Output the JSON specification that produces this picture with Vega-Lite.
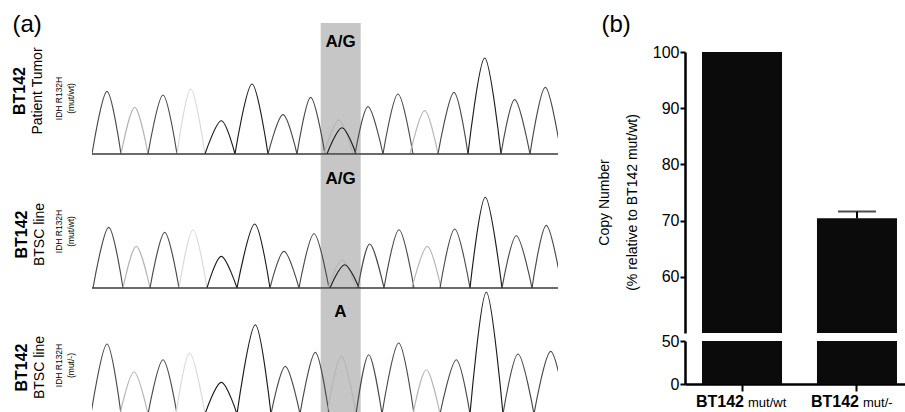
{
 "$schema": "https://vega.github.io/schema/vega-lite/v6.json",
 "padding": {"left": 12, "top": 12, "right": 0, "bottom": 0},
 "background": "white",
 "config": {"view": {"stroke": null}, "font": "Liberation Sans"},
 "datasets": {
  "r1": [
   {"peak":"p1","base":"C","x":92,"h":0},{"peak":"p1","base":"C","x":107,"h":62.7},{"peak":"p1","base":"C","x":121,"h":0},
   {"peak":"p2","base":"A","x":121,"h":0},{"peak":"p2","base":"A","x":134.7,"h":46.7},{"peak":"p2","base":"A","x":148,"h":0},
   {"peak":"p3","base":"C","x":148,"h":0},{"peak":"p3","base":"C","x":163,"h":59},{"peak":"p3","base":"C","x":177,"h":0},
   {"peak":"p4","base":"T","x":177,"h":0},{"peak":"p4","base":"T","x":190.7,"h":65},{"peak":"p4","base":"T","x":205,"h":0},
   {"peak":"p5","base":"G","x":205,"h":0},{"peak":"p5","base":"G","x":221.3,"h":33.3},{"peak":"p5","base":"G","x":235,"h":0},
   {"peak":"p6","base":"G","x":235,"h":0},{"peak":"p6","base":"G","x":252,"h":70},{"peak":"p6","base":"G","x":268,"h":0},
   {"peak":"p7","base":"C","x":268,"h":0},{"peak":"p7","base":"C","x":283,"h":39.3},{"peak":"p7","base":"C","x":297,"h":0},
   {"peak":"p8","base":"C","x":297,"h":0},{"peak":"p8","base":"C","x":310.7,"h":56.7},{"peak":"p8","base":"C","x":325,"h":0},
   {"peak":"p9","base":"A","x":324,"h":0},{"peak":"p9","base":"A","x":338.7,"h":34},{"peak":"p9","base":"A","x":353,"h":0},
   {"peak":"p10","base":"G","x":327,"h":0},{"peak":"p10","base":"G","x":342,"h":26.3},{"peak":"p10","base":"G","x":356,"h":0},
   {"peak":"p11","base":"C","x":355,"h":0},{"peak":"p11","base":"C","x":368,"h":47.3},{"peak":"p11","base":"C","x":383,"h":0},
   {"peak":"p12","base":"C","x":383,"h":0},{"peak":"p12","base":"C","x":398,"h":60},{"peak":"p12","base":"C","x":413,"h":0},
   {"peak":"p13","base":"A","x":410,"h":0},{"peak":"p13","base":"A","x":424.7,"h":43.3},{"peak":"p13","base":"A","x":438,"h":0},
   {"peak":"p14","base":"C","x":438,"h":0},{"peak":"p14","base":"C","x":454,"h":61.7},{"peak":"p14","base":"C","x":468,"h":0},
   {"peak":"p15","base":"G","x":468,"h":0},{"peak":"p15","base":"G","x":484.7,"h":96},{"peak":"p15","base":"G","x":501,"h":0},
   {"peak":"p16","base":"C","x":501,"h":0},{"peak":"p16","base":"C","x":514.7,"h":54.3},{"peak":"p16","base":"C","x":530,"h":0},
   {"peak":"p17","base":"C","x":530,"h":0},{"peak":"p17","base":"C","x":545.3,"h":66.7},{"peak":"p17","base":"C","x":561,"h":0}
  ],
  "r2": [
   {"peak":"p1","base":"C","x":93,"h":0},{"peak":"p1","base":"C","x":108.7,"h":60.7},{"peak":"p1","base":"C","x":123,"h":0},
   {"peak":"p2","base":"A","x":123,"h":0},{"peak":"p2","base":"A","x":136.3,"h":41.7},{"peak":"p2","base":"A","x":150,"h":0},
   {"peak":"p3","base":"C","x":150,"h":0},{"peak":"p3","base":"C","x":164.7,"h":55.7},{"peak":"p3","base":"C","x":179,"h":0},
   {"peak":"p4","base":"T","x":179,"h":0},{"peak":"p4","base":"T","x":193,"h":58.3},{"peak":"p4","base":"T","x":207,"h":0},
   {"peak":"p5","base":"G","x":207,"h":0},{"peak":"p5","base":"G","x":221.3,"h":31.7},{"peak":"p5","base":"G","x":237,"h":0},
   {"peak":"p6","base":"G","x":237,"h":0},{"peak":"p6","base":"G","x":254.7,"h":64},{"peak":"p6","base":"G","x":270,"h":0},
   {"peak":"p7","base":"C","x":270,"h":0},{"peak":"p7","base":"C","x":284,"h":36.7},{"peak":"p7","base":"C","x":299,"h":0},
   {"peak":"p8","base":"C","x":299,"h":0},{"peak":"p8","base":"C","x":314,"h":54.3},{"peak":"p8","base":"C","x":329,"h":0},
   {"peak":"p9","base":"A","x":328,"h":0},{"peak":"p9","base":"A","x":342,"h":28},{"peak":"p9","base":"A","x":356,"h":0},
   {"peak":"p10","base":"G","x":330,"h":0},{"peak":"p10","base":"G","x":344.7,"h":23.3},{"peak":"p10","base":"G","x":359,"h":0},
   {"peak":"p11","base":"C","x":358,"h":0},{"peak":"p11","base":"C","x":369.7,"h":44},{"peak":"p11","base":"C","x":384,"h":0},
   {"peak":"p12","base":"C","x":384,"h":0},{"peak":"p12","base":"C","x":399,"h":58.3},{"peak":"p12","base":"C","x":414,"h":0},
   {"peak":"p13","base":"A","x":412,"h":0},{"peak":"p13","base":"A","x":427.3,"h":41.7},{"peak":"p13","base":"A","x":441,"h":0},
   {"peak":"p14","base":"C","x":440,"h":0},{"peak":"p14","base":"C","x":454.7,"h":59},{"peak":"p14","base":"C","x":470,"h":0},
   {"peak":"p15","base":"G","x":470,"h":0},{"peak":"p15","base":"G","x":485.3,"h":90.7},{"peak":"p15","base":"G","x":502,"h":0},
   {"peak":"p16","base":"C","x":502,"h":0},{"peak":"p16","base":"C","x":516.3,"h":52.3},{"peak":"p16","base":"C","x":532,"h":0},
   {"peak":"p17","base":"C","x":532,"h":0},{"peak":"p17","base":"C","x":546.3,"h":62.7},{"peak":"p17","base":"C","x":562,"h":0}
  ],
  "r3": [
   {"peak":"p1","base":"C","x":91,"h":0},{"peak":"p1","base":"C","x":107,"h":70},{"peak":"p1","base":"C","x":121,"h":0},
   {"peak":"p2","base":"A","x":120,"h":0},{"peak":"p2","base":"A","x":134,"h":42},{"peak":"p2","base":"A","x":148,"h":0},
   {"peak":"p3","base":"C","x":148,"h":0},{"peak":"p3","base":"C","x":163,"h":54.3},{"peak":"p3","base":"C","x":177,"h":0},
   {"peak":"p4","base":"T","x":176,"h":0},{"peak":"p4","base":"T","x":189.7,"h":61},{"peak":"p4","base":"T","x":205,"h":0},
   {"peak":"p5","base":"G","x":205,"h":0},{"peak":"p5","base":"G","x":221.3,"h":31.7},{"peak":"p5","base":"G","x":237,"h":0},
   {"peak":"p6","base":"G","x":237,"h":0},{"peak":"p6","base":"G","x":255.3,"h":89.3},{"peak":"p6","base":"G","x":271,"h":0},
   {"peak":"p7","base":"C","x":271,"h":0},{"peak":"p7","base":"C","x":285.3,"h":47.7},{"peak":"p7","base":"C","x":300,"h":0},
   {"peak":"p8","base":"C","x":300,"h":0},{"peak":"p8","base":"C","x":315.3,"h":61.7},{"peak":"p8","base":"C","x":329,"h":0},
   {"peak":"p9","base":"A","x":327,"h":0},{"peak":"p9","base":"A","x":341.3,"h":57.7},{"peak":"p9","base":"A","x":356,"h":0},
   {"peak":"p11","base":"C","x":356,"h":0},{"peak":"p11","base":"C","x":368.7,"h":59.3},{"peak":"p11","base":"C","x":382,"h":0},
   {"peak":"p12","base":"C","x":382,"h":0},{"peak":"p12","base":"C","x":398.7,"h":71},{"peak":"p12","base":"C","x":414,"h":0},
   {"peak":"p13","base":"A","x":413,"h":0},{"peak":"p13","base":"A","x":426.3,"h":44.3},{"peak":"p13","base":"A","x":440,"h":0},
   {"peak":"p14","base":"C","x":440,"h":0},{"peak":"p14","base":"C","x":456.3,"h":54.3},{"peak":"p14","base":"C","x":470,"h":0},
   {"peak":"p15","base":"G","x":470,"h":0},{"peak":"p15","base":"G","x":486.3,"h":122},{"peak":"p15","base":"G","x":503,"h":0},
   {"peak":"p16","base":"C","x":503,"h":0},{"peak":"p16","base":"C","x":518,"h":60},{"peak":"p16","base":"C","x":534,"h":0},
   {"peak":"p17","base":"C","x":534,"h":0},{"peak":"p17","base":"C","x":550.7,"h":62.7},{"peak":"p17","base":"C","x":567,"h":0}
  ],
  "bars": [
   {"label":"BT142 mut/wt","strain":"BT142","geno":"mut/wt","value":100},
   {"label":"BT142 mut/-","strain":"BT142","geno":"mut/-","value":70.4,"hi":71.6}
  ]
 },
 "spacing": 38,
 "align": "none",
 "hconcat": [
  {
   "spacing": 0,
   "vconcat": [
    {
     "width": 466, "height": 102,
     "title": {"text": "BT142", "subtitle": "Patient Tumor", "orient": "left", "anchor": "middle", "fontSize": 16, "fontWeight": "bold", "color": "black", "subtitleFontSize": 14, "subtitleColor": "black", "subtitlePadding": 3, "offset": -33, "dx": 12},
     "layer": [
      {"data": {"values": [{}]}, "mark": {"type": "rect", "color": "#c6c6c6"},
       "encoding": {
        "x": {"datum": 320.7, "axis": {"orient": "top", "labels": false, "ticks": false, "domain": false, "grid": false, "title": "(a)", "titleFontSize": 24, "titleFontWeight": "normal", "titleColor": "black", "titleAnchor": "start", "titleAlign": "left", "titleX": -80, "titlePadding": 16}},
        "x2": {"datum": 360.7},
        "y": {"datum": 0, "axis": {"title": ["IDH R132H", "(mut/wt)"], "labels": false, "ticks": false, "domain": false, "grid": false, "titleFontSize": 8.5, "titleFontWeight": "normal", "titleColor": "black", "titlePadding": 17, "titleLineHeight": 11.5, "titleY": 46}},
        "y2": {"datum": 131}}},
      {"data": {"name": "r1"}, "mark": {"type": "line", "interpolate": "cardinal", "tension": 0, "strokeWidth": 1.15, "clip": true},
       "encoding": {
        "x": {"field": "x", "type": "quantitative", "scale": {"domain": [92, 558], "nice": false, "zero": false}, "axis": {"orient": "top", "labels": false, "ticks": false, "domain": false, "grid": false, "title": "(a)", "titleFontSize": 24, "titleFontWeight": "normal", "titleColor": "black", "titleAnchor": "start", "titleAlign": "left", "titleX": -80, "titlePadding": 16}},
        "y": {"field": "h", "type": "quantitative", "scale": {"domain": [0, 102], "nice": false}, "axis": {"title": ["IDH R132H", "(mut/wt)"], "labels": false, "ticks": false, "domain": false, "grid": false, "titleFontSize": 8.5, "titleFontWeight": "normal", "titleColor": "black", "titlePadding": 17, "titleLineHeight": 11.5, "titleY": 46}},
        "color": {"field": "base", "type": "nominal", "scale": {"domain": ["A", "T", "C", "G"], "range": ["#b5b5b5", "#d8d8d8", "#4a4a4a", "#1c1c1c"]}, "legend": null},
        "detail": {"field": "peak"}
       }},
      {"data": {"values": [{}]}, "mark": {"type": "rule", "color": "#3a3a3a", "strokeWidth": 1.5},
       "encoding": {"y": {"datum": 0, "axis": {"title": ["IDH R132H", "(mut/wt)"], "labels": false, "ticks": false, "domain": false, "grid": false, "titleFontSize": 8.5, "titleFontWeight": "normal", "titleColor": "black", "titlePadding": 17, "titleLineHeight": 11.5, "titleY": 46}}}},
      {"data": {"values": [{}]}, "mark": {"type": "text", "text": "A/G", "fontSize": 17, "fontWeight": "bold", "color": "black", "baseline": "middle"},
       "encoding": {
        "x": {"datum": 340.5, "axis": {"orient": "top", "labels": false, "ticks": false, "domain": false, "grid": false, "title": "(a)", "titleFontSize": 24, "titleFontWeight": "normal", "titleColor": "black", "titleAnchor": "start", "titleAlign": "left", "titleX": -80, "titlePadding": 16}},
        "y": {"datum": 112.5, "axis": {"title": ["IDH R132H", "(mut/wt)"], "labels": false, "ticks": false, "domain": false, "grid": false, "titleFontSize": 8.5, "titleFontWeight": "normal", "titleColor": "black", "titlePadding": 17, "titleLineHeight": 11.5, "titleY": 46}}}}
     ]
    },
    {
     "width": 466, "height": 133,
     "title": {"text": "BT142", "subtitle": "BTSC line", "orient": "left", "anchor": "middle", "fontSize": 16, "fontWeight": "bold", "color": "black", "subtitleFontSize": 14, "subtitleColor": "black", "subtitlePadding": 3, "offset": 8, "dx": -13},
     "layer": [
      {"data": {"values": [{}]}, "mark": {"type": "rect", "color": "#c6c6c6"},
       "encoding": {"x": {"datum": 320.7, "axis": null}, "x2": {"datum": 360.7},
        "y": {"datum": 0, "axis": {"title": ["IDH R132H", "(mut/wt)"], "labels": false, "ticks": false, "domain": false, "grid": false, "titleFontSize": 8.5, "titleFontWeight": "normal", "titleColor": "black", "titlePadding": 17, "titleLineHeight": 11.5, "titleY": 76}},
        "y2": {"datum": 133}}},
      {"data": {"name": "r2"}, "mark": {"type": "line", "interpolate": "cardinal", "tension": 0, "strokeWidth": 1.15, "clip": true},
       "encoding": {
        "x": {"field": "x", "type": "quantitative", "scale": {"domain": [92, 558], "nice": false, "zero": false}, "axis": null},
        "y": {"field": "h", "type": "quantitative", "scale": {"domain": [0, 133], "nice": false}, "axis": {"title": ["IDH R132H", "(mut/wt)"], "labels": false, "ticks": false, "domain": false, "grid": false, "titleFontSize": 8.5, "titleFontWeight": "normal", "titleColor": "black", "titlePadding": 17, "titleLineHeight": 11.5, "titleY": 76}},
        "color": {"field": "base", "type": "nominal", "scale": {"domain": ["A", "T", "C", "G"], "range": ["#b5b5b5", "#d8d8d8", "#4a4a4a", "#1c1c1c"]}, "legend": null},
        "detail": {"field": "peak"}
       }},
      {"data": {"values": [{}]}, "mark": {"type": "rule", "color": "#3a3a3a", "strokeWidth": 1.5},
       "encoding": {"y": {"datum": 0, "axis": {"title": ["IDH R132H", "(mut/wt)"], "labels": false, "ticks": false, "domain": false, "grid": false, "titleFontSize": 8.5, "titleFontWeight": "normal", "titleColor": "black", "titlePadding": 17, "titleLineHeight": 11.5, "titleY": 76}}}},
      {"data": {"values": [{}]}, "mark": {"type": "text", "text": "A/G", "fontSize": 17, "fontWeight": "bold", "color": "black", "baseline": "middle"},
       "encoding": {"x": {"datum": 340.5, "axis": null},
        "y": {"datum": 109, "axis": {"title": ["IDH R132H", "(mut/wt)"], "labels": false, "ticks": false, "domain": false, "grid": false, "titleFontSize": 8.5, "titleFontWeight": "normal", "titleColor": "black", "titlePadding": 17, "titleLineHeight": 11.5, "titleY": 76}}}}
     ]
    },
    {
     "width": 466, "height": 125,
     "title": {"text": "BT142", "subtitle": "BTSC line", "orient": "left", "anchor": "middle", "fontSize": 16, "fontWeight": "bold", "color": "black", "subtitleFontSize": 14, "subtitleColor": "black", "subtitlePadding": 3, "offset": 8, "dx": -16},
     "layer": [
      {"data": {"values": [{}]}, "mark": {"type": "rect", "color": "#c6c6c6"},
       "encoding": {"x": {"datum": 320.7, "axis": null}, "x2": {"datum": 360.7},
        "y": {"datum": 0, "axis": {"title": ["IDH R132H", "(mut/-)"], "labels": false, "ticks": false, "domain": false, "grid": false, "titleFontSize": 8.5, "titleFontWeight": "normal", "titleColor": "black", "titlePadding": 17, "titleLineHeight": 11.5, "titleY": 76}},
        "y2": {"datum": 125}}},
      {"data": {"name": "r3"}, "mark": {"type": "line", "interpolate": "cardinal", "tension": 0, "strokeWidth": 1.15, "clip": true},
       "encoding": {
        "x": {"field": "x", "type": "quantitative", "scale": {"domain": [92, 558], "nice": false, "zero": false}, "axis": null},
        "y": {"field": "h", "type": "quantitative", "scale": {"domain": [0, 125], "nice": false}, "axis": {"title": ["IDH R132H", "(mut/-)"], "labels": false, "ticks": false, "domain": false, "grid": false, "titleFontSize": 8.5, "titleFontWeight": "normal", "titleColor": "black", "titlePadding": 17, "titleLineHeight": 11.5, "titleY": 76}},
        "color": {"field": "base", "type": "nominal", "scale": {"domain": ["A", "T", "C", "G"], "range": ["#b5b5b5", "#d8d8d8", "#4a4a4a", "#1c1c1c"]}, "legend": null},
        "detail": {"field": "peak"}
       }},
      {"data": {"values": [{}]}, "mark": {"type": "rule", "color": "#3a3a3a", "strokeWidth": 1.5},
       "encoding": {"y": {"datum": 0, "axis": {"title": ["IDH R132H", "(mut/-)"], "labels": false, "ticks": false, "domain": false, "grid": false, "titleFontSize": 8.5, "titleFontWeight": "normal", "titleColor": "black", "titlePadding": 17, "titleLineHeight": 11.5, "titleY": 76}}}},
      {"data": {"values": [{}]}, "mark": {"type": "text", "text": "A", "fontSize": 17, "fontWeight": "bold", "color": "black", "baseline": "middle"},
       "encoding": {"x": {"datum": 340.5, "axis": null},
        "y": {"datum": 102, "axis": {"title": ["IDH R132H", "(mut/-)"], "labels": false, "ticks": false, "domain": false, "grid": false, "titleFontSize": 8.5, "titleFontWeight": "normal", "titleColor": "black", "titlePadding": 17, "titleLineHeight": 11.5, "titleY": 76}}}}
     ]
    }
   ]
  },
  {
   "spacing": 8,
   "bounds": "flush",
   "vconcat": [
    {
     "width": 229, "height": 281,
     "data": {"name": "bars"},
     "layer": [
      {"mark": {"type": "bar", "color": "#0b0b0b", "clip": true},
       "encoding": {
        "x": {"field": "label", "type": "nominal", "sort": null, "scale": {"paddingInner": 0.304, "paddingOuter": 0.148}, "axis": {"orient": "top", "labels": false, "ticks": false, "domain": false, "grid": false, "title": "(b)", "titleFontSize": 24, "titleFontWeight": "normal", "titleColor": "black", "titleAnchor": "start", "titleAlign": "left", "titleX": -84, "titlePadding": 16}},
        "y": {"field": "value", "type": "quantitative", "scale": {"domain": [50, 100], "nice": false, "zero": false},
              "axis": {"values": [60, 70, 80, 90, 100], "title": ["Copy Number", "(% relative to BT142 mut/wt)"], "titleFontSize": 14, "titleFontWeight": "normal", "titleColor": "black", "titleLineHeight": 28, "titlePadding": 13, "titleY": 150, "labelFontSize": 16, "labelColor": "black", "labelPadding": 1, "tickSize": 5, "tickWidth": 2, "tickColor": "black", "domainColor": "black", "domainWidth": 2.5, "grid": false}}
       }},
      {"transform": [{"filter": "isValid(datum.hi)"}], "mark": {"type": "rule", "color": "black", "strokeWidth": 2},
       "encoding": {
        "x": {"field": "label", "type": "nominal", "sort": null, "axis": {"orient": "top", "labels": false, "ticks": false, "domain": false, "grid": false, "title": "(b)", "titleFontSize": 24, "titleFontWeight": "normal", "titleColor": "black", "titleAnchor": "start", "titleAlign": "left", "titleX": -84, "titlePadding": 16}},
        "y": {"field": "value", "type": "quantitative", "axis": {"values": [60, 70, 80, 90, 100], "title": ["Copy Number", "(% relative to BT142 mut/wt)"], "titleFontSize": 14, "titleFontWeight": "normal", "titleColor": "black", "titleLineHeight": 28, "titlePadding": 13, "titleY": 150, "labelFontSize": 16, "labelColor": "black", "labelPadding": 1, "tickSize": 5, "tickWidth": 2, "tickColor": "black", "domainColor": "black", "domainWidth": 2.5, "grid": false}},
        "y2": {"field": "hi"}
       }},
      {"transform": [{"filter": "isValid(datum.hi)"}], "mark": {"type": "tick", "color": "black", "thickness": 2, "size": 38},
       "encoding": {
        "x": {"field": "label", "type": "nominal", "sort": null, "axis": {"orient": "top", "labels": false, "ticks": false, "domain": false, "grid": false, "title": "(b)", "titleFontSize": 24, "titleFontWeight": "normal", "titleColor": "black", "titleAnchor": "start", "titleAlign": "left", "titleX": -84, "titlePadding": 16}},
        "y": {"field": "hi", "type": "quantitative", "axis": {"values": [60, 70, 80, 90, 100], "title": ["Copy Number", "(% relative to BT142 mut/wt)"], "titleFontSize": 14, "titleFontWeight": "normal", "titleColor": "black", "titleLineHeight": 28, "titlePadding": 13, "titleY": 150, "labelFontSize": 16, "labelColor": "black", "labelPadding": 1, "tickSize": 5, "tickWidth": 2, "tickColor": "black", "domainColor": "black", "domainWidth": 2.5, "grid": false}}
       }}
     ]
    },
    {
     "width": 229, "height": 43,
     "data": {"name": "bars"},
     "layer": [
      {"mark": {"type": "bar", "color": "#0b0b0b", "clip": true},
       "encoding": {
        "x": {"field": "label", "type": "nominal", "sort": null, "scale": {"paddingInner": 0.304, "paddingOuter": 0.148},
              "axis": {"labels": false, "title": null, "tickSize": 7, "tickWidth": 2, "tickColor": "black", "domainColor": "black", "domainWidth": 2.5}},
        "y": {"field": "value", "type": "quantitative", "scale": {"domain": [0, 50], "nice": false},
              "axis": {"values": [0, 50], "title": null, "labelFontSize": 16, "labelColor": "black", "labelPadding": 1, "tickSize": 5, "tickWidth": 2, "tickColor": "black", "domainColor": "black", "domainWidth": 2.5, "grid": false}}
       }},
      {"mark": {"type": "text", "align": "right", "baseline": "alphabetic", "dx": 2, "dy": 23, "fontSize": 16, "fontWeight": "bold", "color": "black"},
       "encoding": {
        "x": {"field": "label", "type": "nominal", "sort": null, "axis": {"labels": false, "title": null, "tickSize": 7, "tickWidth": 2, "tickColor": "black", "domainColor": "black", "domainWidth": 2.5}},
        "y": {"datum": 0, "axis": {"values": [0, 50], "title": null, "labelFontSize": 16, "labelColor": "black", "labelPadding": 1, "tickSize": 5, "tickWidth": 2, "tickColor": "black", "domainColor": "black", "domainWidth": 2.5, "grid": false}},
        "text": {"field": "strain"}
       }},
      {"mark": {"type": "text", "align": "left", "baseline": "alphabetic", "dx": 6, "dy": 23, "fontSize": 13, "color": "black"},
       "encoding": {
        "x": {"field": "label", "type": "nominal", "sort": null, "axis": {"labels": false, "title": null, "tickSize": 7, "tickWidth": 2, "tickColor": "black", "domainColor": "black", "domainWidth": 2.5}},
        "y": {"datum": 0, "axis": {"values": [0, 50], "title": null, "labelFontSize": 16, "labelColor": "black", "labelPadding": 1, "tickSize": 5, "tickWidth": 2, "tickColor": "black", "domainColor": "black", "domainWidth": 2.5, "grid": false}},
        "text": {"field": "geno"}
       }}
     ]
    }
   ]
  }
 ]
}
